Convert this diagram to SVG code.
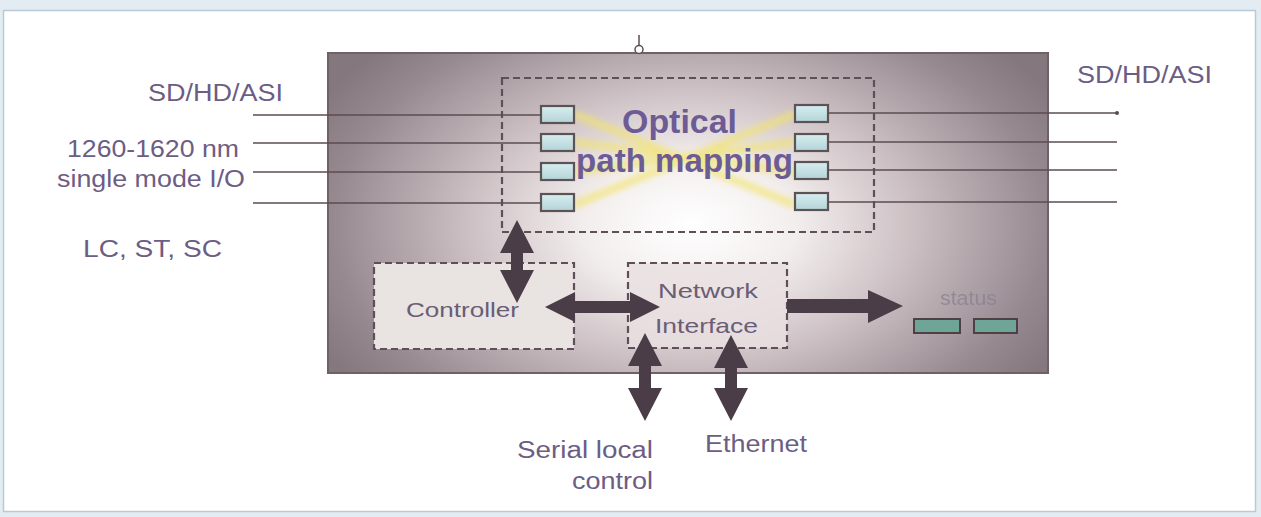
<svg xmlns="http://www.w3.org/2000/svg" width="1261" height="517" viewBox="0 0 1261 517">
<defs>
<radialGradient id="glow" cx="690" cy="225" r="420" gradientUnits="userSpaceOnUse" gradientTransform="translate(690 225) scale(1 0.62) translate(-690 -225)">
<stop offset="0" stop-color="#ffffff"/>
<stop offset="0.25" stop-color="#f3eeee"/>
<stop offset="0.55" stop-color="#c9bcc0"/>
<stop offset="0.85" stop-color="#968990"/>
<stop offset="1" stop-color="#85777e"/>
</radialGradient>
<linearGradient id="port" x1="0" y1="0" x2="0" y2="1">
<stop offset="0" stop-color="#d6eef0"/>
<stop offset="1" stop-color="#b4d4d8"/>
</linearGradient>
<filter id="blur" x="-10%" y="-30%" width="120%" height="160%"><feGaussianBlur stdDeviation="3"/></filter>
<style>
.lbl{font-family:"Liberation Sans",Arial,sans-serif;font-size:23px;fill:#6c5d84}
.big{font-family:"Liberation Sans",Arial,sans-serif;font-size:33px;font-weight:bold;fill:#6d5b95}
.box{font-family:"Liberation Sans",Arial,sans-serif;font-size:21px;fill:#6a5d76}
.wire{stroke:#5b4c52;stroke-width:1.6;fill:none}
.port{fill:url(#port);stroke:#5d5254;stroke-width:2.2}
.dash{fill:none;stroke:#5e4f58;stroke-width:2.2;stroke-dasharray:7 4}
.arrow{fill:#4a3d48}
.led{fill:#6fa596;stroke:#4e4044;stroke-width:2}
</style>
</defs>
<rect x="0" y="0" width="1261" height="517" fill="#e3ecf3"/>
<rect x="3.5" y="10.5" width="1252" height="501" fill="#ffffff" stroke="#b9c9d7" stroke-width="1.5"/>

<g id="chassis">
<rect x="328" y="53" width="720" height="320" fill="url(#glow)" stroke="#6e6266" stroke-width="2"/>
<line x1="639" y1="35" x2="639" y2="46" stroke="#5b4c52" stroke-width="1.5"/>
<circle cx="639" cy="49.5" r="4" fill="#ffffff" stroke="#5b4c52" stroke-width="1.5"/>
</g>

<g id="optical-path-mapping">
<g filter="url(#blur)" stroke="#f2e46a" stroke-width="7" opacity="0.75" fill="none">
<path d="M574,114 L795,205"/>
<path d="M574,205 L795,114"/>
<path d="M574,142 L795,172"/>
<path d="M574,172 L795,142"/>
</g>
<rect class="dash" x="502" y="78" width="372" height="154" stroke="#6b5a4c"/>
<rect class="port" x="541" y="106" width="33" height="17"/>
<rect class="port" x="541" y="134" width="33" height="17"/>
<rect class="port" x="541" y="163" width="33" height="17"/>
<rect class="port" x="541" y="194" width="33" height="17"/>
<rect class="port" x="795" y="105" width="33" height="17"/>
<rect class="port" x="795" y="134" width="33" height="17"/>
<rect class="port" x="795" y="162" width="33" height="17"/>
<rect class="port" x="795" y="193" width="33" height="17"/>
<text class="big" x="622" y="133" textLength="115" lengthAdjust="spacingAndGlyphs">Optical</text>
<text class="big" x="576" y="172" textLength="217" lengthAdjust="spacingAndGlyphs">path mapping</text>
</g>

<g id="controller">
<rect x="374" y="263" width="200" height="86" fill="#e9e3e1"/>
<rect class="dash" x="374" y="263" width="200" height="86"/>
<text class="box" x="406" y="317" textLength="113" lengthAdjust="spacingAndGlyphs">Controller</text>
</g>

<g id="network-interface">
<rect x="628" y="263" width="159" height="85" fill="#e9dfe1" opacity="0.85"/>
<rect class="dash" x="628" y="263" width="159" height="85"/>
<text class="box" x="658" y="298" textLength="100" lengthAdjust="spacingAndGlyphs">Network</text>
<text class="box" x="655" y="333" textLength="103" lengthAdjust="spacingAndGlyphs">Interface</text>
</g>

<g id="status">
<text x="940" y="305" font-family="Liberation Sans,Arial,sans-serif" font-size="20" fill="#8c8292" opacity="0.8" textLength="57" lengthAdjust="spacingAndGlyphs">status</text>
<rect class="led" x="914" y="319" width="46" height="14"/>
<rect class="led" x="974" y="319" width="43" height="14"/>
</g>

<g id="labels">
<text class="lbl" x="148" y="101" textLength="135" lengthAdjust="spacingAndGlyphs">SD/HD/ASI</text>
<text class="lbl" x="67" y="157" textLength="172" lengthAdjust="spacingAndGlyphs">1260-1620 nm</text>
<text class="lbl" x="57" y="187" textLength="188" lengthAdjust="spacingAndGlyphs">single mode I/O</text>
<text class="lbl" x="83" y="257" textLength="139" lengthAdjust="spacingAndGlyphs">LC, ST, SC</text>
<text class="lbl" x="1077" y="83" textLength="135" lengthAdjust="spacingAndGlyphs">SD/HD/ASI</text>
<text class="lbl" x="517" y="458" textLength="136" lengthAdjust="spacingAndGlyphs">Serial local</text>
<text class="lbl" x="572" y="489" textLength="81" lengthAdjust="spacingAndGlyphs">control</text>
<text class="lbl" x="705" y="452" textLength="102" lengthAdjust="spacingAndGlyphs">Ethernet</text>
</g>

<g id="connectors">
<path class="wire" d="M253,115 H541"/>
<path class="wire" d="M253,143 H541"/>
<path class="wire" d="M253,172 H541"/>
<path class="wire" d="M253,203 H541"/>
<path class="wire" d="M828,113 H1117"/>
<path class="wire" d="M828,142 H1117"/>
<path class="wire" d="M828,170 H1117"/>
<path class="wire" d="M828,202 H1117"/>
<circle cx="1117" cy="113" r="2" fill="#5b4c52"/>
<path class="arrow" d="M517,220 L534,253 L523,253 L523,270 L534,270 L517,303 L500,270 L511,270 L511,253 L500,253 Z"/>
<path class="arrow" d="M545,307 L575,292 L575,301 L630,301 L630,292 L660,307 L630,322 L630,313 L575,313 L575,322 Z"/>
<path class="arrow" d="M787,299 L868,299 L868,290 L903,306 L868,323 L868,313 L787,313 Z"/>
<path class="arrow" d="M645,333 L662,366 L651,366 L651,388 L662,388 L645,421 L628,388 L639,388 L639,366 L628,366 Z"/>
<path class="arrow" d="M731,335 L748,368 L737,368 L737,388 L748,388 L731,421 L714,388 L725,388 L725,368 L714,368 Z"/>
</g>
</svg>
